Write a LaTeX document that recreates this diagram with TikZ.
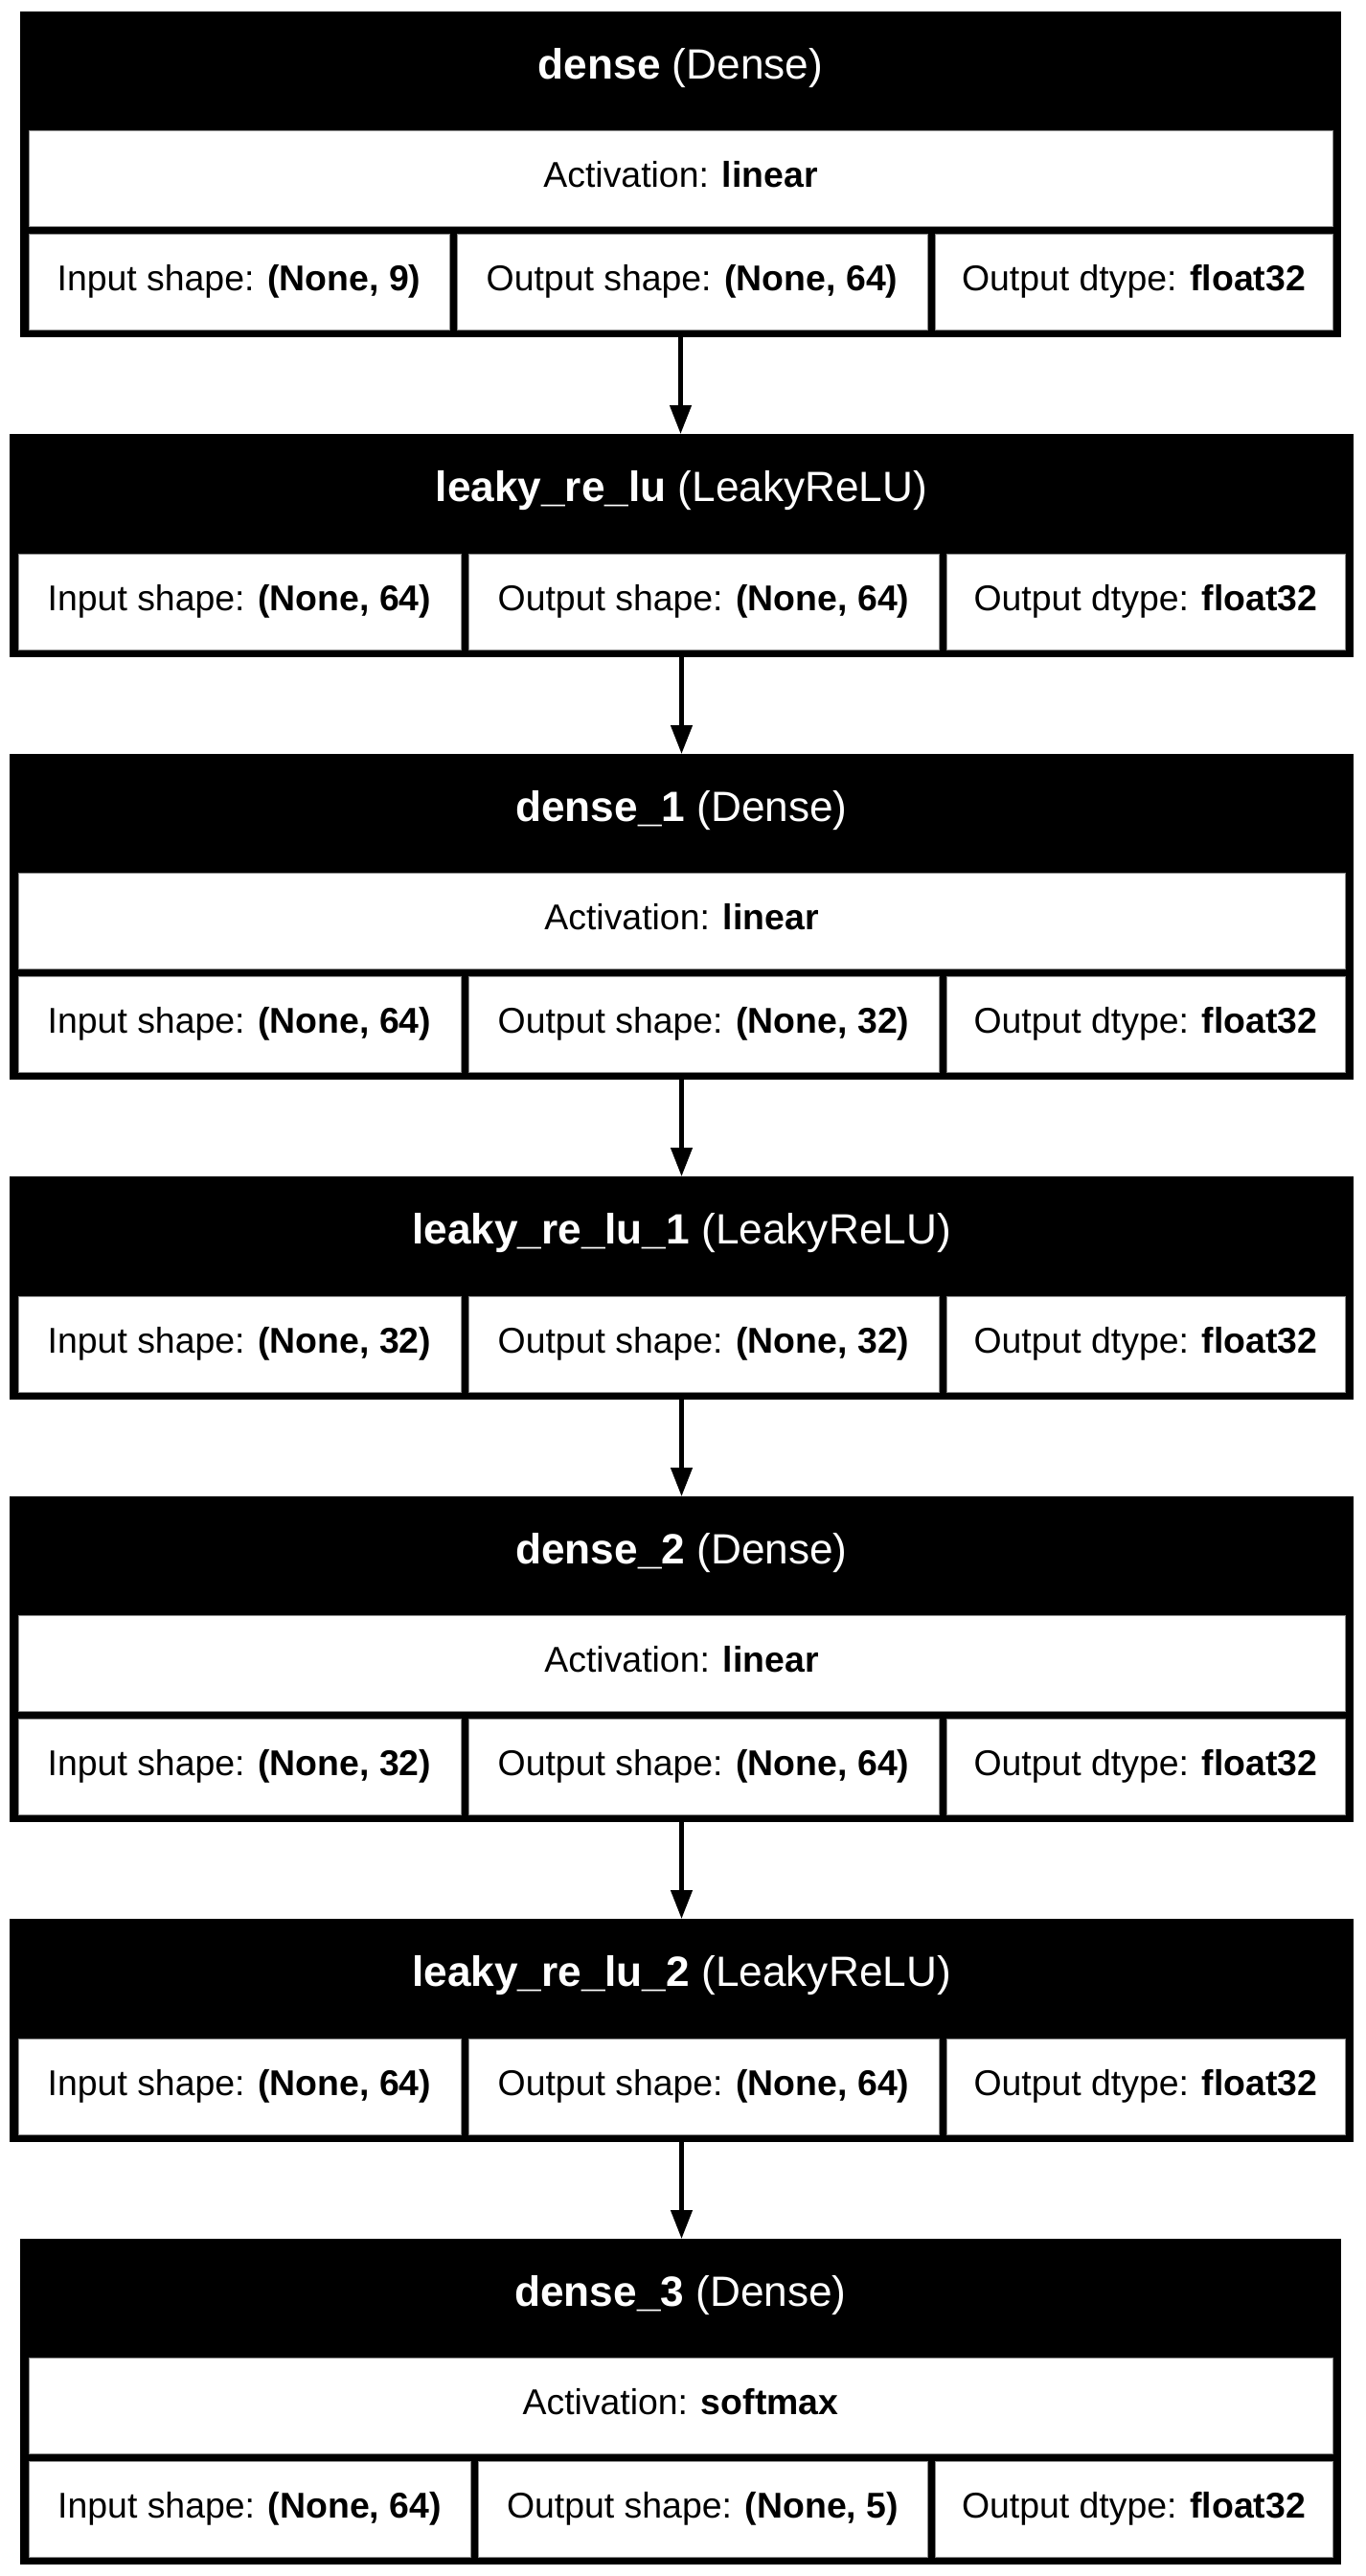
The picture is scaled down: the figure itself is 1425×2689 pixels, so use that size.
\documentclass[tikz,border=0pt]{standalone}
\usepackage{fontspec}
\setmainfont{Liberation Sans}
\usetikzlibrary{arrows.meta,fit}

\tikzset{
  outerbox/.style={fill=black, draw=none, inner sep=0pt, outer sep=0pt},
  cellbox/.style={fill=white, draw=black!45, line width=0.5pt, inner sep=0pt, outer sep=0pt},
  headtxt/.style={text=white, font=\fontsize{22.1}{26}\selectfont, anchor=base, inner sep=0pt},
  celltxt/.style={text=black, font=\fontsize{18.7}{22}\selectfont, anchor=base, inner sep=0pt},
  flow/.style={draw=black, line width=2.2pt, -{Triangle[length=15pt,width=11pt]}},
}

% black frame of one layer: name, left, top, right, bottom
\newcommand\layerframe[5]{%
  \node[outerbox, fit={(#2,#3) (#4,#5)}] (#1) {};}
% white title of one layer: name, centre x, baseline, layer name, class
\newcommand\layerhead[5]{%
  \node[headtxt] (#1) at (#2,#3) {\textbf{#4} #5};}
% one white cell: name, x1, y1, x2, y2, label, value
\newcommand\infocell[7]{%
  \node[cellbox, fit={(#2,#3) (#4,#5)}] (#1) {};
  \node[celltxt] (#1-text) at ({(#2+#4)/2},{(#3+#5)/2+9}) {#6 \textbf{#7}};}

\begin{document}
\begin{tikzpicture}[x=0.5pt,y=-0.5pt]
\fill[white] (0,0) rectangle (1425,2689);
\useasboundingbox (0,0) rectangle (1425,2689);

% dense
\layerframe{b1}{21}{12}{1400}{352}
\layerhead{b1-head}{710.5}{82}{dense}{(Dense)}
\infocell{b1-act}{30}{136}{1391}{236}{Activation:}{linear}
\infocell{b1-in}{30}{244}{469}{344}{Input shape:}{(None, 9)}
\infocell{b1-out}{477}{244}{968}{344}{Output shape:}{(None, 64)}
\infocell{b1-dt}{976}{244}{1391}{344}{Output dtype:}{float32}

% leaky_re_lu
\layerframe{b2}{10}{453}{1413}{686}
\layerhead{b2-head}{711.5}{523}{leaky\_re\_lu}{(LeakyReLU)}
\infocell{b2-in}{19}{578}{481}{678}{Input shape:}{(None, 64)}
\infocell{b2-out}{489}{578}{980}{678}{Output shape:}{(None, 64)}
\infocell{b2-dt}{988}{578}{1404}{678}{Output dtype:}{float32}

% dense_1
\layerframe{b3}{10}{787}{1413}{1127}
\layerhead{b3-head}{711.5}{857}{dense\_1}{(Dense)}
\infocell{b3-act}{19}{911}{1404}{1011}{Activation:}{linear}
\infocell{b3-in}{19}{1019}{481}{1119}{Input shape:}{(None, 64)}
\infocell{b3-out}{489}{1019}{980}{1119}{Output shape:}{(None, 32)}
\infocell{b3-dt}{988}{1019}{1404}{1119}{Output dtype:}{float32}

% leaky_re_lu_1
\layerframe{b4}{10}{1228}{1413}{1461}
\layerhead{b4-head}{711.5}{1298}{leaky\_re\_lu\_1}{(LeakyReLU)}
\infocell{b4-in}{19}{1353}{481}{1453}{Input shape:}{(None, 32)}
\infocell{b4-out}{489}{1353}{980}{1453}{Output shape:}{(None, 32)}
\infocell{b4-dt}{988}{1353}{1404}{1453}{Output dtype:}{float32}

% dense_2
\layerframe{b5}{10}{1562}{1413}{1902}
\layerhead{b5-head}{711.5}{1632}{dense\_2}{(Dense)}
\infocell{b5-act}{19}{1686}{1404}{1786}{Activation:}{linear}
\infocell{b5-in}{19}{1794}{481}{1894}{Input shape:}{(None, 32)}
\infocell{b5-out}{489}{1794}{980}{1894}{Output shape:}{(None, 64)}
\infocell{b5-dt}{988}{1794}{1404}{1894}{Output dtype:}{float32}

% leaky_re_lu_2
\layerframe{b6}{10}{2003}{1413}{2236}
\layerhead{b6-head}{711.5}{2073}{leaky\_re\_lu\_2}{(LeakyReLU)}
\infocell{b6-in}{19}{2128}{481}{2228}{Input shape:}{(None, 64)}
\infocell{b6-out}{489}{2128}{980}{2228}{Output shape:}{(None, 64)}
\infocell{b6-dt}{988}{2128}{1404}{2228}{Output dtype:}{float32}

% dense_3
\layerframe{b7}{21}{2337}{1400}{2677}
\layerhead{b7-head}{710.5}{2407}{dense\_3}{(Dense)}
\infocell{b7-act}{30}{2461}{1391}{2561}{Activation:}{softmax}
\infocell{b7-in}{30}{2569}{491}{2669}{Input shape:}{(None, 64)}
\infocell{b7-out}{499}{2569}{968}{2669}{Output shape:}{(None, 5)}
\infocell{b7-dt}{976}{2569}{1391}{2669}{Output dtype:}{float32}

% data flow between the layers
\foreach \a/\b in {b1/b2,b2/b3,b3/b4,b4/b5,b5/b6,b6/b7}
  \draw[flow] (\a.south) -- (\a.south |- \b.north);
\end{tikzpicture}
\end{document}
